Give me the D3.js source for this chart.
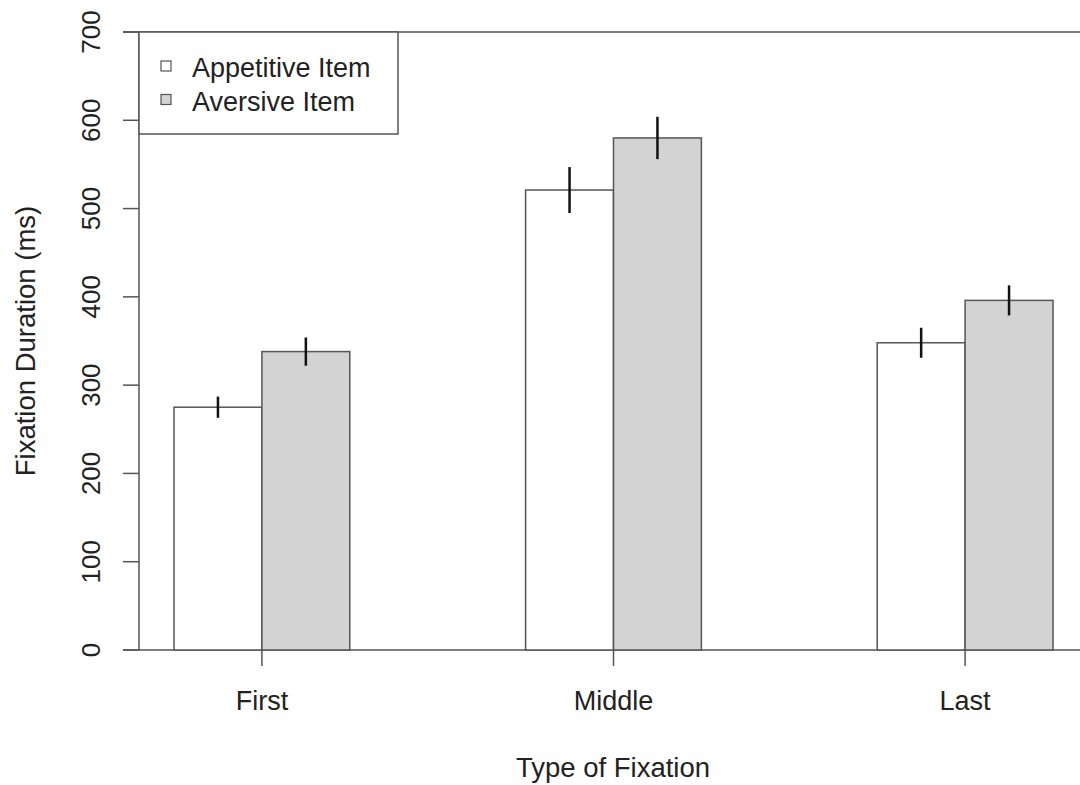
<!DOCTYPE html>
<html>
<head>
<meta charset="utf-8">
<script src="https://cdn.jsdelivr.net/npm/d3@7"></script>
<style>
  html, body { margin: 0; padding: 0; background: #fff; }
  svg text { font-family: "Liberation Sans", Arial, Helvetica, sans-serif; fill: #222; }
</style>
</head>
<body>
<div id="chart"></div>
<script>
const categories = ["First", "Middle", "Last"];
const series = ["Appetitive Item", "Aversive Item"];
const seriesFill = ["#ffffff", "#d3d3d3"];
const appetitive = [275, 521, 348];
const aversive = [338, 580, 396];
const appetitiveErr = [12, 26, 17];
const aversiveErr = [16, 24, 17];
const yTicks = [0, 100, 200, 300, 400, 500, 600, 700];

const W = 1080, H = 785;
const svg = d3.select('#chart').append('svg')
  .attr('width', W).attr('height', H);

const y = d3.scaleLinear().domain([0, 700]).range([650, 32]);
const x = d3.scaleBand().domain(categories).range([174, 1053])
  .paddingInner(0.5).paddingOuter(0);
const xs = d3.scaleBand().domain(series).range([0, x.bandwidth()]);

const lineCol = '#555';

// horizontal reference lines at 0 and 700
svg.selectAll('.hline').data([0, 700]).enter().append('line')
  .attr('x1', 123).attr('x2', W)
  .attr('y1', d => y(d)).attr('y2', d => y(d))
  .attr('stroke', lineCol).attr('stroke-width', 1.5);

// bars
const rows = categories.map((c, i) => [
  { cat: c, s: series[0], v: appetitive[i], e: appetitiveErr[i], fill: seriesFill[0] },
  { cat: c, s: series[1], v: aversive[i], e: aversiveErr[i], fill: seriesFill[1] }
]).flat();

svg.selectAll('.bar').data(rows).enter().append('rect')
  .attr('x', d => x(d.cat) + xs(d.s))
  .attr('y', d => y(d.v))
  .attr('width', xs.bandwidth())
  .attr('height', d => y(0) - y(d.v))
  .attr('fill', d => d.fill)
  .attr('stroke', lineCol).attr('stroke-width', 1.5);

// error bars
svg.selectAll('.err').data(rows).enter().append('line')
  .attr('x1', d => x(d.cat) + xs(d.s) + xs.bandwidth() / 2)
  .attr('x2', d => x(d.cat) + xs(d.s) + xs.bandwidth() / 2)
  .attr('y1', d => y(d.v + d.e))
  .attr('y2', d => y(d.v - d.e))
  .attr('stroke', '#111').attr('stroke-width', 2.5);

// y axis
const yAxis = svg.append('g');
yAxis.append('line')
  .attr('x1', 139).attr('x2', 139)
  .attr('y1', y(0)).attr('y2', y(700))
  .attr('stroke', lineCol).attr('stroke-width', 1.5);
yAxis.selectAll('.yt').data(yTicks).enter().append('line')
  .attr('x1', 123).attr('x2', 139)
  .attr('y1', d => y(d)).attr('y2', d => y(d))
  .attr('stroke', lineCol).attr('stroke-width', 1.5);
yAxis.selectAll('.yl').data(yTicks).enter().append('text')
  .attr('transform', d => `translate(100,${y(d)}) rotate(-90)`)
  .attr('text-anchor', 'middle')
  .attr('font-size', '26px')
  .text(d => d);

// x axis ticks + labels
svg.selectAll('.xt').data(categories).enter().append('line')
  .attr('x1', d => x(d) + x.bandwidth() / 2).attr('x2', d => x(d) + x.bandwidth() / 2)
  .attr('y1', 650).attr('y2', 666)
  .attr('stroke', lineCol).attr('stroke-width', 1.5);
svg.selectAll('.xl').data(categories).enter().append('text')
  .attr('x', d => x(d) + x.bandwidth() / 2)
  .attr('y', 710)
  .attr('text-anchor', 'middle')
  .attr('font-size', '27px')
  .text(d => d);

// titles
svg.append('text')
  .attr('x', 613).attr('y', 777)
  .attr('text-anchor', 'middle')
  .attr('font-size', '27.5px')
  .text('Type of Fixation');
svg.append('text')
  .attr('transform', `translate(35,${(y(0) + y(700)) / 2}) rotate(-90)`)
  .attr('text-anchor', 'middle')
  .attr('font-size', '27.5px')
  .text('Fixation Duration (ms)');

// legend
const lg = svg.append('g');
lg.append('rect')
  .attr('x', 139).attr('y', 32).attr('width', 259).attr('height', 102)
  .attr('fill', '#fff').attr('stroke', lineCol).attr('stroke-width', 1.5);
series.forEach((s, i) => {
  lg.append('rect')
    .attr('x', 161).attr('y', 61 + i * 33.5).attr('width', 10).attr('height', 10)
    .attr('fill', seriesFill[i]).attr('stroke', lineCol).attr('stroke-width', 1.2);
  lg.append('text')
    .attr('x', 192).attr('y', 77 + i * 33.5)
    .attr('font-size', '27px')
    .text(s);
});
</script>
</body>
</html>
